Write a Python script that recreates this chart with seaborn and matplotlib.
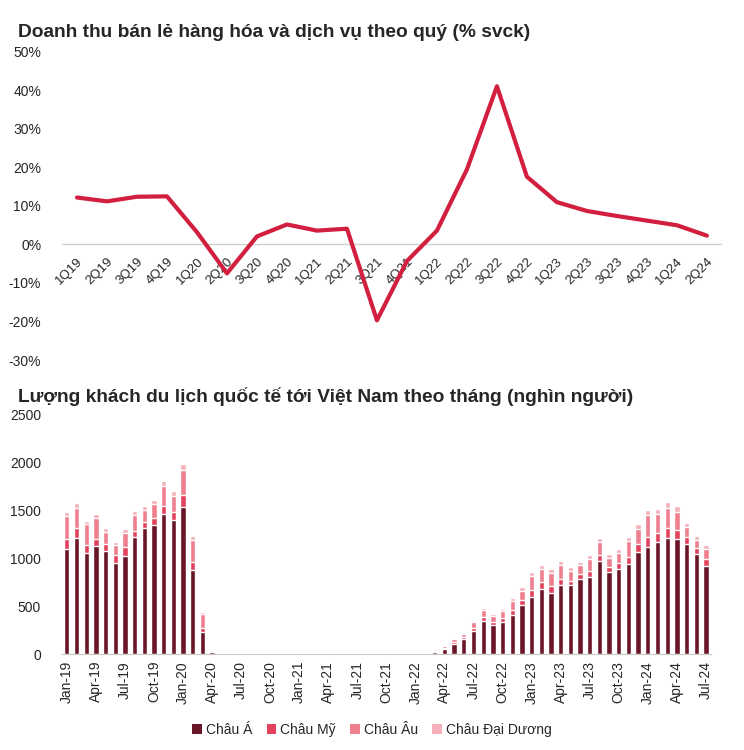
import numpy as np
import pandas as pd
import matplotlib
matplotlib.use("Agg")
import matplotlib.pyplot as plt
from matplotlib.patches import Patch
import seaborn as sns

# Data

quarters = ["1Q19", "2Q19", "3Q19", "4Q19", "1Q20", "2Q20", "3Q20", "4Q20",
            "1Q21", "2Q21", "3Q21", "4Q21", "1Q22", "2Q22", "3Q22", "4Q22",
            "1Q23", "2Q23", "3Q23", "4Q23", "1Q24", "2Q24"]
retail_yoy = [12.2, 11.2, 12.4, 12.5, 3.2, -7.5, 2.1, 5.2, 3.6, 4.1, -19.7, -4.3,
              3.6, 19.5, 41.1, 17.6, 11.0, 8.7, 7.4, 6.2, 5.0, 2.3]

months = [f"{m}-{y}" for y in ["19", "20", "21", "22", "23", "24"]
          for m in ["Jan", "Feb", "Mar", "Apr", "May", "Jun",
                    "Jul", "Aug", "Sep", "Oct", "Nov", "Dec"]][:67]

chau_a = [1098, 1213, 1060, 1130, 1077, 955, 1029, 1224, 1321, 1349, 1461, 1402,
          1538, 879, 234, 18, 8, 7, 8, 7, 7, 8, 8, 9,
          8, 5, 7, 8, 7, 5, 5, 5, 5, 6, 7, 11,
          11, 10, 22, 50, 105, 153, 237, 349, 307, 338, 411, 513,
          600, 680, 642, 722, 718, 785, 805, 973, 858, 889, 941, 1070,
          1119, 1168, 1217, 1206, 1154, 1046, 924]
chau_my = [100, 101, 80, 77, 70, 80, 87, 63, 56, 70, 87, 80,
           125, 80, 42, 2, 1, 1, 1, 1, 1, 1, 1, 1,
           1, 1, 1, 1, 1, 1, 1, 1, 1, 1, 2, 3,
           3, 3, 5, 12, 18, 22, 30, 35, 32, 40, 50, 55,
           70, 70, 68, 65, 50, 48, 60, 65, 52, 58, 78, 80,
           100, 95, 100, 95, 70, 62, 68]
chau_au = [241, 212, 215, 214, 133, 110, 153, 172, 131, 147, 208, 170,
           266, 235, 140, 4, 3, 2, 3, 2, 2, 3, 3, 4,
           3, 2, 2, 3, 2, 2, 1, 2, 2, 3, 3, 4,
           3, 3, 6, 20, 33, 38, 63, 74, 61, 74, 93, 94,
           151, 137, 136, 147, 101, 98, 129, 130, 93, 110, 158, 155,
           232, 202, 213, 189, 100, 85, 103]
chau_dd = [50, 50, 40, 40, 35, 30, 35, 40, 40, 45, 50, 50,
           55, 40, 20, 1, 0, 0, 0, 0, 0, 0, 0, 0,
           0, 0, 0, 0, 0, 0, 0, 0, 0, 0, 0, 0,
           1, 1, 2, 5, 8, 10, 15, 20, 18, 22, 28, 35,
           40, 40, 40, 42, 38, 35, 38, 42, 40, 45, 50, 55,
           55, 55, 60, 58, 50, 45, 45]

series_names = ["Châu Á", "Châu Mỹ", "Châu Âu", "Châu Đại Dương"]
series_colors = ["#6b1628", "#e2425c", "#ee7f8e", "#f5b0ba"]

# Style

sns.set_style("white")
plt.rcParams["font.family"] = ["Liberation Sans", "DejaVu Sans"]

fig = plt.figure(figsize=(7.44, 7.5), dpi=100)

# Retail sales line chart

ax1 = fig.add_axes([0.0833, 0.52, 0.887, 0.4107])
df_q = pd.DataFrame({"quarter": quarters, "yoy": retail_yoy})
df_q["pos"] = np.arange(len(quarters))
ax1.axhline(0, color="#d0d0d0", lw=1, zorder=1)
sns.lineplot(data=df_q, x="pos", y="yoy", color="#d21f40", lw=3, ax=ax1, zorder=3)
ax1.spines["bottom"].set_position(("data", 0))
for s in ax1.spines.values():
    s.set_visible(False)
ax1.set_xlim(-0.5, len(quarters) - 0.5)
ax1.set_ylim(-30, 50)
ax1.set_yticks(np.arange(-30, 51, 10))
ax1.set_yticklabels([f"{v}%" for v in range(-30, 51, 10)], fontsize=10)
ax1.set_xticks(df_q["pos"])
ax1.set_xticklabels(quarters, fontsize=9.5, rotation=45, ha="right",
                    rotation_mode="anchor")
ax1.tick_params(axis="x", length=0, pad=8)
ax1.tick_params(axis="y", length=0, pad=15)
ax1.set_xlabel("")
ax1.set_ylabel("")

fig.text(0.024, 0.951, "Doanh thu bán lẻ hàng hóa và dịch vụ theo quý (% svck)",
         fontsize=13.8, fontweight="bold", va="baseline")

# Tourist arrivals stacked bars

ax2 = fig.add_axes([0.0833, 0.128, 0.872, 0.3187])
layers = np.cumsum(np.array([chau_a, chau_my, chau_au, chau_dd]), axis=0)
for i in range(3, -1, -1):
    sns.barplot(x=months, y=layers[i], order=months, color=series_colors[i],
                saturation=1, width=0.55, ax=ax2, zorder=2)
ax2.set_xlim(-0.5, len(months) - 0.5)
ax2.set_ylim(0, 2500)
ax2.set_yticks(np.arange(0, 2501, 500))
ax2.set_yticklabels([str(v) for v in range(0, 2501, 500)], fontsize=10)
ax2.set_xticks(np.arange(0, len(months), 3))
ax2.set_xticklabels(months[::3], rotation=90, fontsize=10)
ax2.set_xticks(np.arange(-0.5, len(months), 3), minor=True)
for s in ["left", "right", "top"]:
    ax2.spines[s].set_visible(False)
ax2.spines["bottom"].set_color("#c8c8c8")
ax2.tick_params(axis="x", which="major", length=0, pad=5)
ax2.tick_params(axis="x", which="minor", length=5, color="#c8c8c8", width=1)
ax2.tick_params(axis="y", length=0, pad=15)
ax2.set_xlabel("")
ax2.set_ylabel("")

fig.text(0.024, 0.464, "Lượng khách du lịch quốc tế tới Việt Nam theo tháng (nghìn người)",
         fontsize=13.8, fontweight="bold", va="baseline")

handles = [Patch(facecolor=c, edgecolor="none", label=n)
           for n, c in zip(series_names, series_colors)]
fig.legend(handles=handles, loc="center", bbox_to_anchor=(0.5, 0.027), ncol=4,
           frameon=False, fontsize=10, handlelength=0.7, handleheight=0.7,
           handletextpad=0.3, columnspacing=1.0)

fig.savefig("out.png", dpi=100)
